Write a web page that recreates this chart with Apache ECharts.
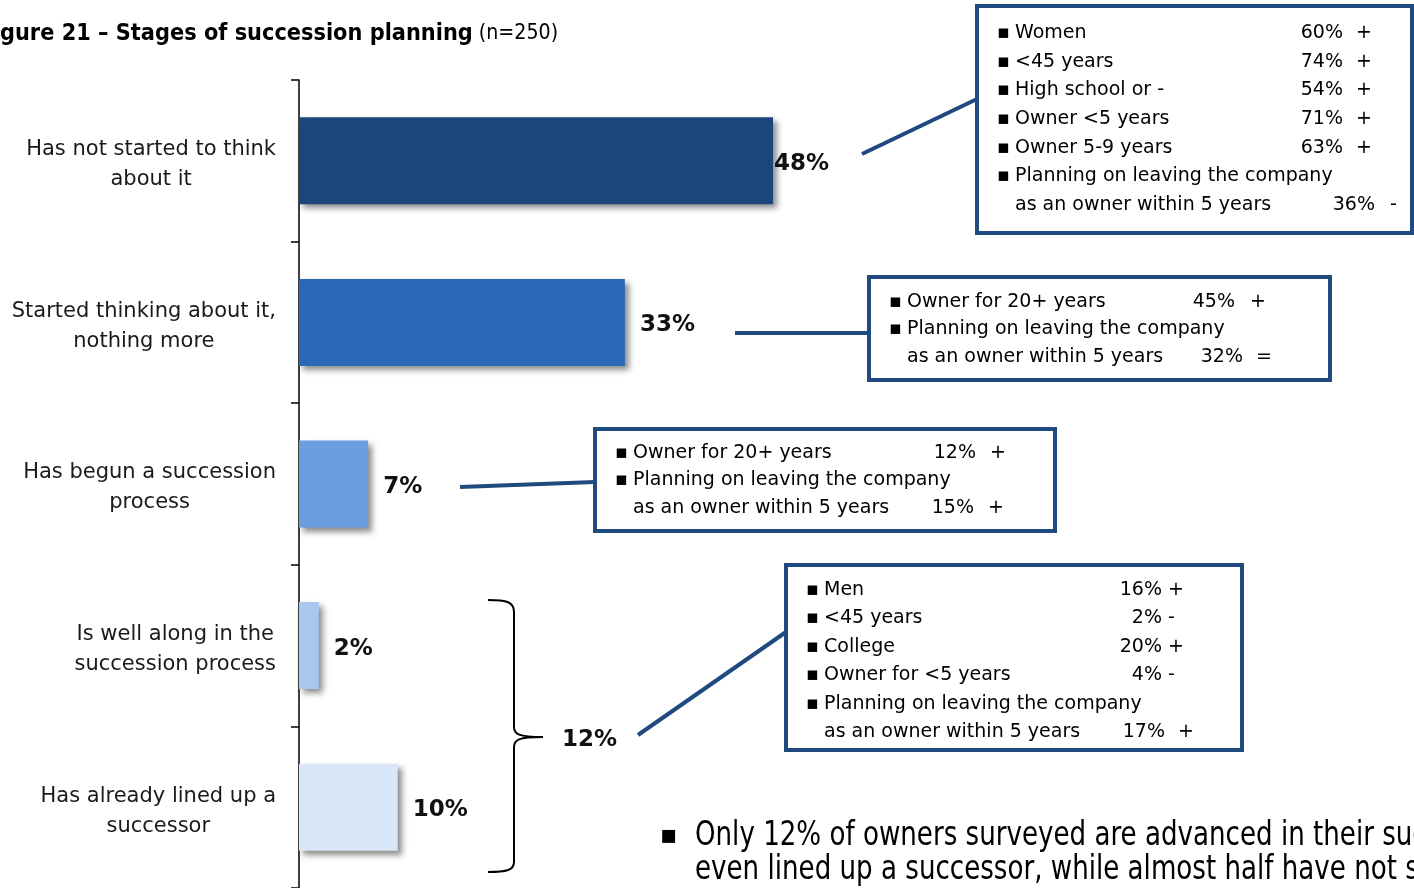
<!DOCTYPE html>
<html>
<head>
<meta charset="utf-8">
<title>Stages of succession planning</title>
<script src="https://cdn.jsdelivr.net/npm/echarts@6/dist/echarts.min.js"></script>
<style>
  html, body { margin: 0; padding: 0; background: #fff; }
  #chart { width: 1414px; height: 888px; }
</style>
</head>
<body>
<div id="chart"></div>
<script>
// Survey stages (n=250), share of owners in each stage
const categories = [
  'Has not started to think\nabout it',
  'Started thinking about it,\nnothing more',
  'Has begun a succession\nprocess',
  'Is well along in the\nsuccession process',
  'Has already lined up a\nsuccessor'
];
const shares = [48, 33, 7, 2, 10];

// Profile call-outs: [label, share, significance]
const notStartedProfile = [
  ['Women', '60%', '+'],
  ['<45 years', '74%', '+'],
  ['High school or -', '54%', '+'],
  ['Owner <5 years', '71%', '+'],
  ['Owner 5-9 years', '63%', '+'],
  ['Planning on leaving the company\nas an owner within 5 years', '36%', '-']
];
const thinkingProfile = [
  ['Owner for 20+ years', '45%', '+'],
  ['Planning on leaving the company\nas an owner within 5 years', '32%', '=']
];
const begunProfile = [
  ['Owner for 20+ years', '12%', '+'],
  ['Planning on leaving the company\nas an owner within 5 years', '15%', '+']
];
const advancedProfile = [
  ['Men', '16%', '+'],
  ['<45 years', '2%', '-'],
  ['College', '20%', '+'],
  ['Owner for <5 years', '4%', '-'],
  ['Planning on leaving the company\nas an owner within 5 years', '17%', '+']
];

const titleText = 'Figure 21 \u2013 Stages of succession planning';
const sampleText = '(n=250)';
const summaryLines = [
  'Only 12% of owners surveyed are advanced in their succession planning or have',
  'even lined up a successor, while almost half have not started to think about it.'
];

// ---- styling ----
const barColors = ['#1c4679', '#2a67b7', '#6b9edf', '#a8c7ee', '#d9e6f7'];
const navy = '#1f4a7f';
const FONT = 'DejaVu Sans, Verdana, sans-serif';

// bracket total for the two most advanced stages
const advancedShare = shares[3] + shares[4];

// ---- call-out box builder ----
function buildBox(rows, box) {
  const els = [];
  els.push({
    type: 'rect', z: 10,
    shape: { x: box.x, y: box.y, width: box.w, height: box.h },
    style: { fill: '#fff', stroke: navy, lineWidth: 4 }
  });
  let line = 0;
  rows.forEach(row => {
    const parts = row[0].split('\n');
    parts.forEach((p, pi) => {
      const y = box.top + line * box.step;
      if (pi === 0) {
        els.push({ type: 'text', z: 11, style: { text: '\u25aa', x: box.bx, y: y, fill: '#000',
          font: '19px ' + FONT, textVerticalAlign: 'middle', verticalAlign: 'middle' } });
      }
      els.push({ type: 'text', z: 11, style: { text: p, x: box.tx, y: y, fill: '#000',
        font: '19px ' + FONT, textVerticalAlign: 'middle', verticalAlign: 'middle' } });
      if (pi === parts.length - 1) {
        const wrapped = parts.length > 1;
        els.push({ type: 'text', z: 11, style: { text: row[1], x: wrapped ? box.vx2 : box.vx, y: y,
          fill: '#000', font: '19px ' + FONT, textAlign: 'right',
          textVerticalAlign: 'middle', verticalAlign: 'middle' } });
        els.push({ type: 'text', z: 11, style: { text: row[2], x: wrapped ? box.sx2 : box.sx, y: y,
          fill: '#000', font: '19px ' + FONT, textVerticalAlign: 'middle', verticalAlign: 'middle' } });
      }
      line++;
    });
  });
  return els;
}

function connector(x1, y1, x2, y2) {
  return { type: 'line', z: 9, shape: { x1, y1, x2, y2 }, style: { stroke: navy, lineWidth: 4 } };
}
function braceLine(x1, y1, x2, y2) {
  return { type: 'line', z: 5, shape: { x1, y1, x2, y2 }, style: { stroke: '#000', lineWidth: 2 } };
}
function braceCurve(x1, y1, cpx1, cpy1, cpx2, cpy2, x2, y2) {
  return { type: 'bezierCurve', z: 5, shape: { x1, y1, cpx1, cpy1, cpx2, cpy2, x2, y2 },
    style: { fill: null, stroke: '#000', lineWidth: 2 } };
}

const graphics = [];
// title (bold heading slightly condensed, then sample size)
graphics.push({
  type: 'text', z: 5, x: -21.5, y: 34, scaleX: 0.93,
  style: {
    text: '{b|' + titleText + '}{n| ' + sampleText + '}',
    x: 0, y: 0, textVerticalAlign: 'middle', verticalAlign: 'middle',
    rich: {
      b: { fontFamily: FONT, fontWeight: 'bold', fontSize: 22.5, fill: '#000', color: '#000' },
      n: { fontFamily: FONT, fontSize: 20.5, fill: '#000', color: '#000' }
    }
  }
});

// connectors
graphics.push(connector(862, 154, 977, 99));
graphics.push(connector(735, 333, 869, 333));
graphics.push(connector(460, 487, 595, 482));
graphics.push(connector(638, 735, 786, 632));

// call-out boxes
graphics.push(...buildBox(notStartedProfile, { x: 977, y: 6, w: 435, h: 227, top: 33, step: 28.7,
  bx: 997, tx: 1015, vx: 1343, sx: 1356, vx2: 1375, sx2: 1390 }));
graphics.push(...buildBox(thinkingProfile, { x: 869, y: 277, w: 461, h: 103, top: 302, step: 27.5,
  bx: 889, tx: 907, vx: 1235, sx: 1250, vx2: 1243, sx2: 1256 }));
graphics.push(...buildBox(begunProfile, { x: 595, y: 429, w: 460, h: 102, top: 453, step: 27.5,
  bx: 615, tx: 633, vx: 976, sx: 990, vx2: 974, sx2: 988 }));
graphics.push(...buildBox(advancedProfile, { x: 786, y: 565, w: 456, h: 185, top: 590, step: 28.5,
  bx: 806, tx: 824, vx: 1162, sx: 1168, vx2: 1165, sx2: 1178 }));

// bracket spanning the two most advanced stages
graphics.push(braceCurve(488, 600, 507, 600, 514, 602, 514, 612));
graphics.push(braceLine(514, 612, 514, 727));
graphics.push(braceCurve(514, 727, 514, 734, 518, 737, 543, 737));
graphics.push(braceCurve(543, 737, 518, 737, 514, 740, 514, 747));
graphics.push(braceLine(514, 747, 514, 862));
graphics.push(braceCurve(514, 862, 514, 870, 507, 872, 488, 872));
graphics.push({
  type: 'text', z: 5,
  style: { text: advancedShare + '%', x: 562, y: 740, fill: '#111',
    font: 'bold 23px ' + FONT, textVerticalAlign: 'middle', verticalAlign: 'middle' }
});

// summary bullet
graphics.push({
  type: 'text', z: 5,
  style: { text: '\u25aa', x: 660, y: 836, fill: '#000', font: '26px ' + FONT,
    textVerticalAlign: 'middle', verticalAlign: 'middle' }
});
summaryLines.forEach((t, i) => {
  graphics.push({
    type: 'text', z: 5, x: 695, y: 836 + i * 34, scaleX: 0.88,
    style: { text: t, x: 0, y: 0, fill: '#000',
      font: "33px 'Liberation Sans Narrow', 'DejaVu Sans Condensed', sans-serif",
      textVerticalAlign: 'middle', verticalAlign: 'middle' }
  });
});

const chart = echarts.init(document.getElementById('chart'), null, { renderer: 'canvas' });
chart.setOption({
  animation: false,
  backgroundColor: '#fff',
  grid: { left: 299, top: 80, width: 987.5, height: 811, containLabel: false },
  xAxis: { type: 'value', min: 0, max: 100, show: false },
  yAxis: {
    type: 'category',
    inverse: true,
    data: categories,
    axisLine: { show: true, lineStyle: { color: '#000', width: 1.5 } },
    axisTick: { show: true, length: 8, lineStyle: { color: '#000', width: 1.5 } },
    splitLine: { show: false },
    axisLabel: {
      margin: 23,
      padding: [8, 0, 0, 0],
      formatter: v => v.split('\n').map(l => '{c|' + l + '}').join('\n'),
      rich: {
        c: { align: 'center', fontFamily: FONT, fontSize: 21, lineHeight: 30, color: '#1a1a1a' }
      }
    }
  },
  series: [{
    type: 'bar',
    barWidth: 87,
    silent: true,
    data: shares.map((v, i) => ({
      value: v,
      itemStyle: { color: barColors[i] },
      label: { distance: i === 0 ? 1 : 15 }
    })),
    itemStyle: {
      shadowColor: 'rgba(0,0,0,0.45)',
      shadowBlur: 6,
      shadowOffsetX: 4,
      shadowOffsetY: 4
    },
    label: {
      show: true,
      position: 'right',
      offset: [0, 3],
      formatter: '{c}%',
      fontFamily: FONT,
      fontWeight: 'bold',
      fontSize: 23,
      color: '#111'
    }
  }],
  graphic: { elements: graphics }
});
</script>
</body>
</html>
